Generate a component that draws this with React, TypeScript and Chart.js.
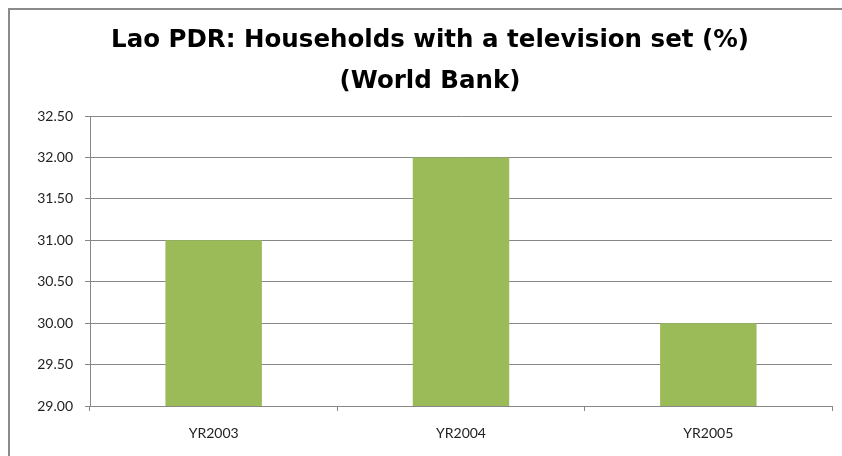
import React, { useEffect, useRef } from "react";
import { Chart, registerables } from "chart.js";

Chart.register(...registerables);

const categories = ["YR2003", "YR2004", "YR2005"];
const values = [31.0, 32.0, 30.0];
const titleLines = ["Lao PDR: Households with a television set (%)", "(World Bank)"];
const yMin = 29.0;
const yMax = 32.5;
const yStep = 0.5;

export default function App() {
  const ref = useRef<HTMLCanvasElement | null>(null);

  useEffect(() => {
    document.documentElement.style.overflow = "hidden";
    document.body.style.overflow = "hidden";
    if (!ref.current) return;
    const gridColor = "#878787";
    const chart = new Chart(ref.current, {
      type: "bar",
      data: {
        labels: categories,
        datasets: [
          {
            data: values,
            backgroundColor: "#9BBB59",
            borderWidth: 0,
            categoryPercentage: 1,
            barPercentage: 0.39,
          },
        ],
      },
      options: {
        animation: false,
        responsive: false,
        layout: { padding: { left: 18, right: 10, top: 0, bottom: 0 } },
        plugins: {
          legend: { display: false },
          tooltip: { enabled: false },
          title: {
            display: true,
            text: titleLines,
            color: "#000",
            font: { family: "DejaVu Sans", size: 24.5, weight: "bold", lineHeight: 41 / 24.5 },
            padding: { top: 10, bottom: 14 },
          },
        },
        scales: {
          x: {
            grid: {
              drawOnChartArea: false,
              drawTicks: true,
              tickLength: 5,
              color: gridColor,
              offset: true,
            },
            border: { display: true, color: gridColor, width: 1 },
            ticks: {
              color: "#222",
              font: { family: "Lato", size: 14 },
              padding: 14,
            },
            afterFit: (s: any) => {
              s.height = 50;
            },
          },
          y: {
            min: yMin,
            max: yMax,
            ticks: {
              stepSize: yStep,
              color: "#222",
              font: { family: "Lato", size: 14 },
              padding: 12,
              callback: (v: any) => Number(v).toFixed(2),
            },
            grid: { color: gridColor, tickLength: 5, lineWidth: 1 },
            border: { display: true, color: gridColor, width: 1 },
            afterFit: (s: any) => {
              s.width = 62;
            },
          },
        },
      },
    });
    return () => chart.destroy();
  }, []);

  return (
    <div
      style={{
        position: "fixed",
        left: 8,
        top: 8,
        width: 900,
        height: 500,
        borderLeft: "2px solid #8a8a8a",
        borderTop: "2px solid #8a8a8a",
        boxSizing: "border-box",
        background: "#fff",
      }}
    >
      <canvas ref={ref} width={832} height={446} style={{ display: "block" }} />
    </div>
  );
}
